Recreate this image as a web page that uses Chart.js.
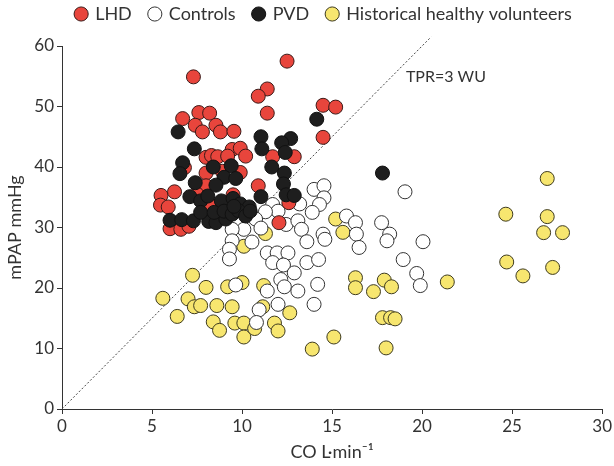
<!DOCTYPE html>
<html>
<head>
<meta charset="utf-8">
<script src="https://cdn.jsdelivr.net/npm/chart.js@4"></script>
<style>
  html, body { margin: 0; padding: 0; background: #fff; }
</style>
</head>
<body>
<canvas id="grafico" width="614" height="466"></canvas>
<script>
// valores (CO em L/min, mPAP em mmHg)
const lhdCO = [7.3, 12.5, 11.4, 10.9, 14.5, 15.2, 11.4, 7.6, 8.2, 6.7, 7.4, 7.8, 8.55, 8.8, 9.55, 14.5, 9.45, 9.9, 10.2, 8.0, 8.3, 8.65, 9.2, 11.7, 12.9, 6.8, 8.0, 8.9, 9.9, 8.0, 10.9, 5.5, 6.25, 5.47, 5.9, 8.2, 6.0, 6.6, 7.05, 7.5, 9.5, 12.05, 12.6];
const lhdPAP = [54.9, 57.5, 52.9, 51.7, 50.2, 49.9, 48.9, 49.0, 48.9, 48.0, 46.9, 45.8, 46.9, 45.8, 45.9, 44.9, 42.9, 43.1, 41.8, 41.6, 41.9, 41.7, 41.8, 41.7, 41.7, 39.9, 39.0, 39.3, 39.1, 36.9, 36.9, 35.3, 35.9, 33.7, 33.4, 33.8, 29.8, 29.7, 30.2, 35.5, 35.4, 30.8, 34.1];

const controlesCO = [19.05, 14.0, 14.55, 14.55, 14.3, 13.2, 11.7, 12.0, 11.3, 13.9, 10.75, 12.45, 13.1, 13.3, 10.1, 9.45, 11.05, 9.45, 10.55, 13.6, 14.5, 14.6, 9.3, 9.3, 11.4, 11.95, 12.55, 11.7, 12.3, 13.6, 14.25, 12.9, 12.15, 14.2, 12.35, 11.4, 13.1, 9.65, 12.0, 14.0, 10.95, 10.8, 15.8, 16.3, 16.35, 16.5, 17.75, 18.2, 18.05, 20.05, 18.95, 19.7, 19.9];
const controlesPAP = [35.9, 36.3, 36.9, 34.9, 33.8, 33.9, 33.8, 32.7, 32.6, 32.5, 31.4, 30.5, 31.1, 29.7, 29.7, 29.7, 29.9, 27.8, 27.6, 27.65, 28.9, 28.05, 26.4, 24.8, 25.8, 25.8, 25.8, 24.2, 23.8, 24.2, 24.7, 22.5, 21.4, 20.6, 20.2, 19.5, 19.5, 20.5, 17.3, 17.3, 16.4, 14.3, 31.9, 30.8, 28.9, 26.7, 30.8, 28.9, 27.8, 27.65, 24.7, 22.4, 20.4];

const pvdCO = [17.8, 14.15, 11.05, 12.7, 12.2, 11.1, 7.35, 12.4, 6.45, 6.7, 6.55, 8.4, 9.4, 11.65, 12.35, 9.0, 9.65, 7.4, 8.55, 12.3, 7.1, 7.7, 8.1, 8.85, 9.5, 9.9, 10.4, 11.05, 12.45, 12.9, 6.0, 6.65, 7.3, 8.15, 8.55, 9.1, 7.7, 8.45, 9.0, 9.45, 9.8, 10.2, 10.45, 9.55];
const pvdPAP = [39.0, 47.9, 45.0, 44.7, 44.0, 43.0, 43.0, 42.4, 45.8, 40.7, 38.9, 40.0, 40.2, 40.0, 39.0, 38.3, 38.1, 37.4, 37.0, 37.2, 35.1, 34.4, 35.2, 34.4, 34.8, 33.9, 33.4, 35.1, 35.4, 35.3, 31.2, 31.3, 31.1, 31.0, 30.8, 31.4, 32.5, 32.5, 32.7, 32.2, 32.8, 31.9, 32.7, 33.5];

const voluntariosCO = [7.25, 8.0, 5.6, 7.0, 7.35, 7.7, 8.6, 6.4, 8.4, 8.75, 9.2, 10.0, 9.45, 11.15, 12.65, 9.6, 10.1, 10.1, 10.7, 11.8, 12.0, 13.9, 15.1, 16.3, 16.3, 11.2, 15.2, 15.6, 11.3, 10.1, 17.3, 17.9, 18.3, 21.4, 17.8, 18.25, 18.5, 18.0, 24.65, 24.7, 25.6, 26.95, 26.95, 26.75, 27.8, 27.25];
const voluntariosPAP = [22.1, 20.1, 18.3, 18.2, 16.9, 17.1, 17.1, 15.3, 14.4, 13.0, 20.2, 20.9, 16.9, 16.9, 15.9, 14.2, 14.2, 11.9, 13.3, 14.2, 12.9, 9.9, 11.9, 21.7, 20.05, 20.4, 31.4, 29.2, 29.0, 26.9, 19.4, 21.3, 20.2, 21.0, 15.1, 15.1, 14.9, 10.1, 32.2, 24.3, 22.0, 38.1, 31.8, 29.15, 29.15, 23.4];

// linha TPR = 3 WU (mPAP = 3 x CO)
const tprCO = [0, 20.5];
const tprPAP = [0, 61.5];
const tprRotulo = [19.1, 54.9];

const fonte = "Lato, 'DejaVu Sans Condensed', sans-serif";
Chart.defaults.font.family = fonte;
Chart.defaults.font.size = 17;
Chart.defaults.color = '#333';

function pontos(xs, ys) {
  return xs.map((v, i) => ({ x: v, y: ys[i] }));
}

function grupo(nome, xs, ys, cor, borda, ordem) {
  return {
    label: nome,
    data: pontos(xs, ys),
    backgroundColor: cor,
    borderColor: borda,
    borderWidth: 1,
    pointRadius: 7,
    pointHoverRadius: 7,
    order: ordem
  };
}

const rotuloTPR = {
  id: 'rotuloTPR',
  afterDatasetsDraw(chart) {
    const { ctx, scales } = chart;
    ctx.save();
    ctx.font = '16px ' + fonte;
    ctx.fillStyle = '#333';
    ctx.textBaseline = 'middle';
    ctx.fillText('TPR=3 WU', scales.x.getPixelForValue(tprRotulo[0]), scales.y.getPixelForValue(tprRotulo[1]));
    ctx.restore();
  }
};

// legenda mais alta e um pouco à direita, como na figura
const ajusteLegenda = {
  id: 'ajusteLegenda',
  beforeInit(chart) {
    const legenda = chart.legend;
    const drawOriginal = legenda.draw;
    legenda.draw = function (...args) {
      this.ctx.save();
      this.ctx.translate(20, -13);
      drawOriginal.apply(this, args);
      this.ctx.restore();
    };
  }
};

const ctx = document.getElementById('grafico').getContext('2d');
new Chart(ctx, {
  type: 'scatter',
  data: {
    datasets: [
      grupo('LHD', lhdCO, lhdPAP, '#e8453c', '#3a1a18', 1),
      grupo('Controls', controlesCO, controlesPAP, '#ffffff', '#333333', 2),
      grupo('PVD', pvdCO, pvdPAP, '#1e1e1e', '#111111', 0),
      grupo('Historical healthy volunteers', voluntariosCO, voluntariosPAP, '#f7e66f', '#3d3a1e', 3),
      {
        type: 'line',
        label: 'TPR',
        data: pontos(tprCO, tprPAP),
        borderColor: '#444',
        borderWidth: 1,
        borderDash: [2, 2],
        pointRadius: 0,
        fill: false,
        clip: false,
        order: 10
      }
    ]
  },
  options: {
    responsive: false,
    animation: false,
    layout: {
      padding: { left: 0, right: 6, top: 0, bottom: 1 }
    },
    plugins: {
      legend: {
        position: 'top',
        labels: {
          usePointStyle: true,
          pointStyle: 'circle',
          boxWidth: 10,
          boxHeight: 10,
          padding: 18,
          color: '#333',
          font: { size: 18 },
          filter: (item) => item.datasetIndex !== 4,
          sort: (a, b) => a.datasetIndex - b.datasetIndex
        }
      },
      tooltip: { enabled: false }
    },
    scales: {
      x: {
        type: 'linear',
        min: 0,
        max: 30,
        ticks: { stepSize: 5, padding: 2, color: '#333' },
        grid: { drawOnChartArea: false, tickLength: 5, color: '#333' },
        border: { color: '#333' },
        title: { display: true, text: 'CO L·min⁻¹', color: '#333', font: { size: 18 }, padding: { top: 3, bottom: 2 } }
      },
      y: {
        min: 0,
        max: 60,
        ticks: { stepSize: 10, padding: 3, color: '#333' },
        grid: { drawOnChartArea: false, tickLength: 5, color: '#333' },
        border: { color: '#333' },
        title: { display: true, text: 'mPAP mmHg', color: '#333', font: { size: 18 }, padding: { top: 4, bottom: 4 } },
        afterFit: (escala) => { escala.width = 62; }
      }
    }
  },
  plugins: [rotuloTPR, ajusteLegenda]
});
</script>
</body>
</html>
